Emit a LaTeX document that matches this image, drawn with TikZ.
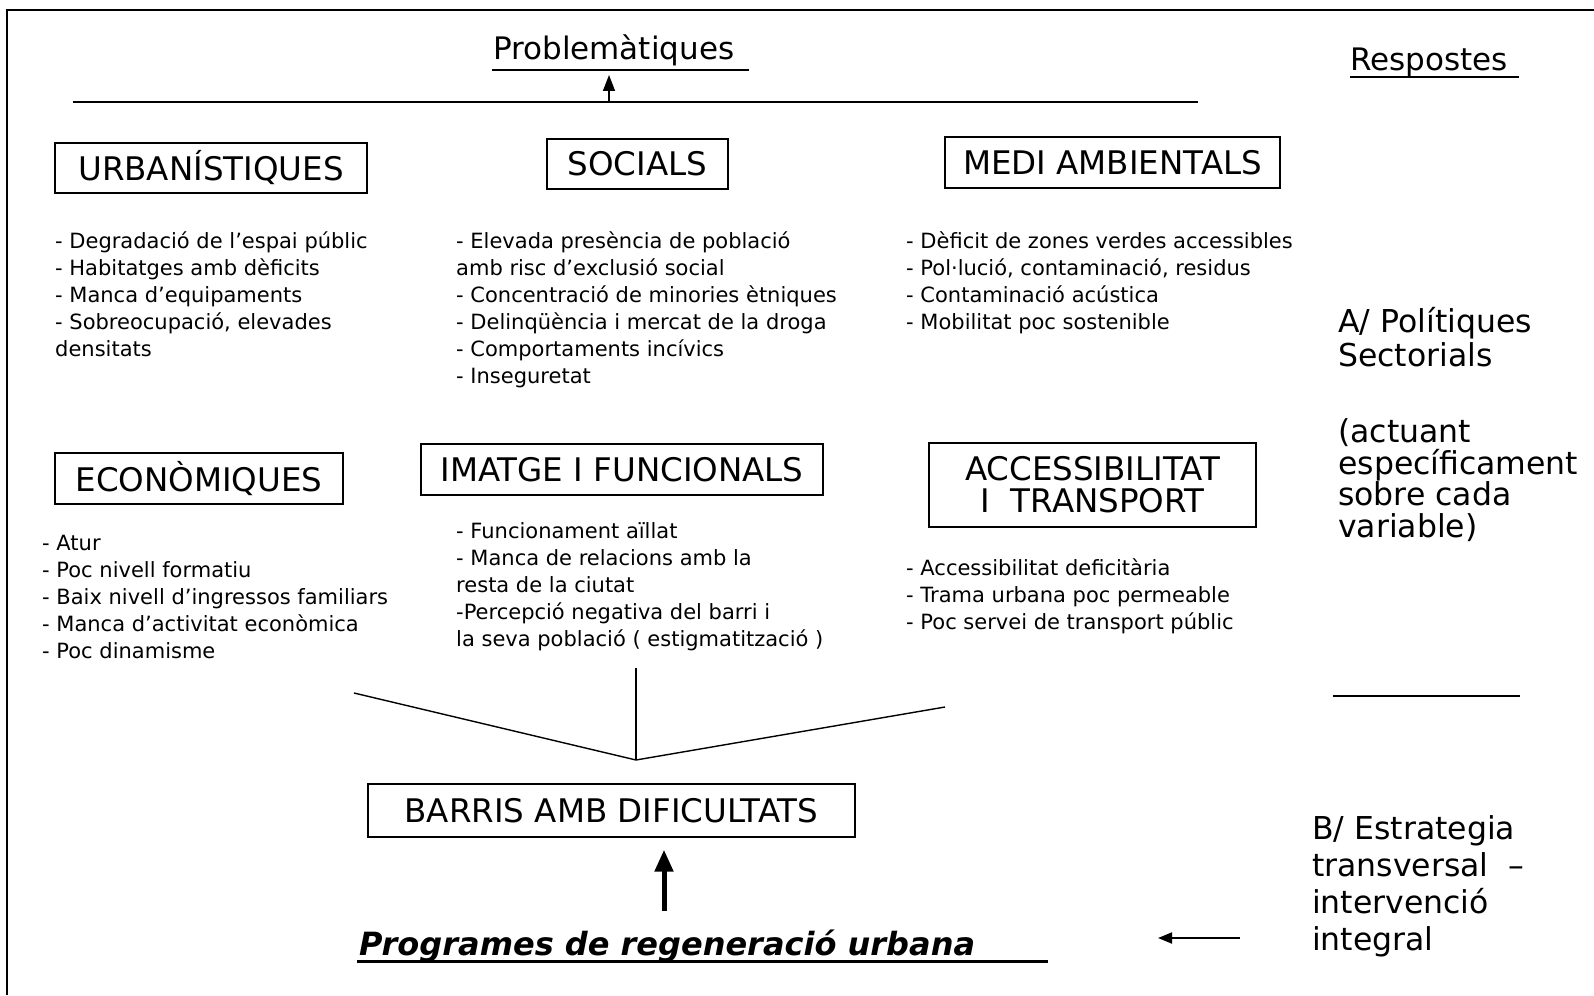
\documentclass[tikz,border=0pt]{standalone}
\usepackage{fontspec}
\setmainfont{DejaVu Sans}[BoldFont={DejaVu Sans Bold},ItalicFont={DejaVu Sans Oblique},BoldItalicFont={DejaVu Sans Bold Oblique}]
\usetikzlibrary{arrows.meta}

\begin{document}
\begin{tikzpicture}[>=Triangle, x=1pt, y=-1pt,
  box/.style={draw, line width=1.4pt, inner sep=0pt, align=center,
    font=\fontsize{32.5}{32}\selectfont},
  items/.style={anchor=base west, inner sep=0pt, align=left,
    font=\fontsize{21}{27}\selectfont},
  side/.style={anchor=base west, inner sep=0pt, align=left},
  heading/.style={anchor=base west, inner sep=0pt, font=\fontsize{31}{31}\selectfont},
  rule/.style={line width=1.4pt}]
  %================= Page window and frame =================
  \useasboundingbox (0,0) rectangle (1594,995);
  \draw[line width=2pt] (7,995) -- (7,10) -- (1594,10);

  %================= Headings =================
  \node[heading] (prob) at (493,60) {Problemàtiques};
  \draw[rule] (492,70) -- (749,70);
  \node[heading] (resp) at (1350,71) {Respostes};
  \draw[rule] (1350,77) -- (1519,77);

  % long rule with the small arrow up to the heading
  \coordinate (lineL) at (73,102);
  \coordinate (lineR) at (1198,102);
  \draw[rule] (lineL) -- (lineR);
  \coordinate (probFoot) at (609,102);
  \coordinate (probTip) at (609,75);
  \draw[rule, -{Triangle[length=16pt,width=12pt]}] (probFoot) -- (probTip);

  %================= First row of problems =================
  % (list nodes are placed at the baseline of their last line)
  \node[box, minimum width=312pt, minimum height=50pt] (urb) at (211,168) {URBANÍSTIQUES};
  \node[box, minimum width=181pt, minimum height=50pt] (soc) at (637.5,164) {SOCIALS};
  \node[box, minimum width=335pt, minimum height=51pt] (medi) at (1112.5,162.5) {MEDI AMBIENTALS};

  \node[items] (urbList) at (55,356)
    {- Degradació de l’espai públic\\- Habitatges amb dèficits\\- Manca d’equipaments\\- Sobreocupació, elevades\\densitats};
  \node[items] (socList) at (456,383)
    {- Elevada presència de població\\amb risc d’exclusió social\\- Concentració de minories ètniques\\- Delinqüència i mercat de la droga\\- Comportaments incívics\\- Inseguretat};
  \node[items] (mediList) at (906,329)
    {- Dèficit de zones verdes accessibles\\- Pol·lució, contaminació, residus\\- Contaminació acústica\\- Mobilitat poc sostenible};

  %================= Second row of problems =================
  \node[box, minimum width=288pt, minimum height=51pt] (econ) at (199,478.5) {ECONÒMIQUES};
  \node[box, minimum width=402pt, minimum height=51pt] (imatge) at (622,469.5) {IMATGE I FUNCIONALS};
  \node[box, minimum width=327pt, minimum height=84pt] (access) at (1092.5,485) {ACCESSIBILITAT\\I\ \ TRANSPORT};

  \node[items] (econList) at (42,658)
    {- Atur\\- Poc nivell formatiu\\- Baix nivell d’ingressos familiars\\- Manca d’activitat econòmica\\- Poc dinamisme};
  \node[items] (imatgeList) at (456,646)
    {- Funcionament aïllat\\- Manca de relacions amb la\\resta de la ciutat\\-Percepció negativa del barri i\\la seva població ( estigmatització )};
  \node[items] (accessList) at (906,629)
    {- Accessibilitat deficitària\\- Trama urbana poc permeable\\- Poc servei de transport públic};

  %================= Answers (right column) =================
  \node[side, font=\fontsize{31.5}{34}\selectfont] (polA) at (1338,366) {A/ Polítiques\\Sectorials};
  \node[side, font=\fontsize{31.5}{31.5}\selectfont] (polNote) at (1338,537) {(actuant\\específicament\\sobre cada\\variable)};
  \draw[rule] (1333,696) -- (1520,696);
  \node[side, font=\fontsize{31.5}{37}\selectfont] (estrB) at (1312,950) {B/ Estrategia\\transversal\ \ –\\intervenció\\integral};

  %================= Funnel into the neighbourhoods =================
  \coordinate (vMeet) at (636,760);
  \coordinate (vLeft) at (354,693);
  \coordinate (vTop) at (636,668);
  \coordinate (vRight) at (945,707);
  \draw[rule] (vLeft) -- (vMeet) -- (vRight);
  \draw[rule] (vTop) -- (vMeet);

  \node[box, minimum width=487pt, minimum height=53pt] (barris) at (611.5,810.5) {BARRIS AMB DIFICULTATS};

  %================= Regeneration programmes =================
  \node[heading, font=\fontsize{32}{32}\selectfont\bfseries\itshape] (prog) at (359,955) {Programes de regeneració urbana};
  \draw[line width=3pt] (357,961) -- (1048,961);

  \coordinate (progX) at (664,0);
  \draw[line width=5pt, -{Triangle[length=22pt,width=18pt]}, shorten <=18pt, shorten >=12pt]
    (prog.north -| progX) -- (barris.south -| progX);

  \coordinate (bFrom) at (1240,938);
  \coordinate (bTo) at (1158,938);
  \draw[line width=2pt, -{Triangle[length=14pt,width=11pt]}] (bFrom) -- (bTo);

\end{tikzpicture}
\end{document}
